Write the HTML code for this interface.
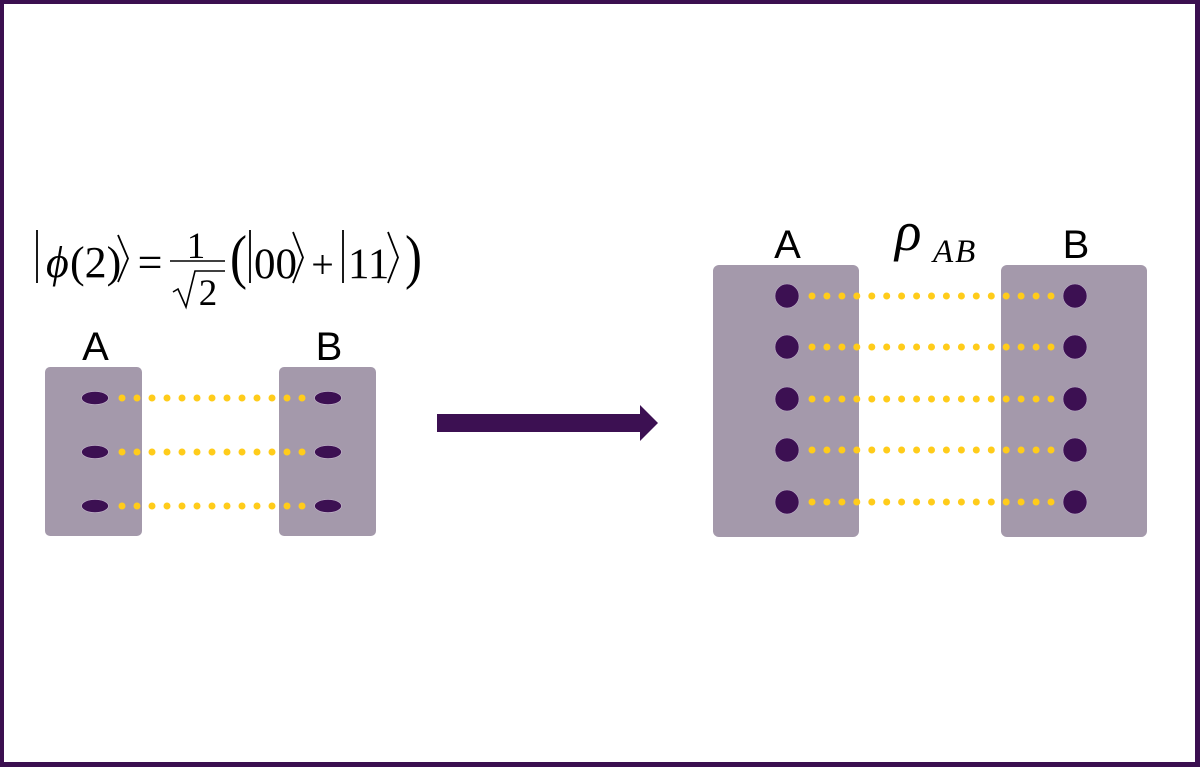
<!DOCTYPE html>
<html><head><meta charset="utf-8"><style>
html,body{margin:0;padding:0;background:#fff;}
body{width:1200px;height:767px;overflow:hidden;position:relative;}
.frame{position:absolute;left:0;top:0;width:1200px;height:767px;box-sizing:border-box;border-style:solid;border-color:#3b0f50;border-width:4px 5px 5px 4px;}
svg{position:absolute;left:0;top:0;}
</style></head><body>
<div class="frame"></div>
<svg width="1200" height="767" viewBox="0 0 1200 767" xmlns="http://www.w3.org/2000/svg">
<!-- Equation -->
<g fill="#000" stroke="#000" font-family="'Liberation Serif', 'DejaVu Serif', serif">
  <line x1="37" y1="230" x2="37" y2="283" stroke-width="1.8"/>
  <text x="46" y="277" font-size="44" stroke="none" font-style="italic">ϕ</text>
  <text x="70" y="277" font-size="44" stroke="none">(2)</text>
  <polyline points="118,235 128,258.5 118,282" fill="none" stroke-width="1.8"/>
  <text x="150" y="277" font-size="44" stroke="none" text-anchor="middle">=</text>
  <text x="196" y="258" font-size="37" stroke="none" text-anchor="middle">1</text>
  <line x1="170" y1="261" x2="225" y2="261" stroke-width="1.6"/>
  <polyline points="173,292 178,289 186,307 195,271 225,271" fill="none" stroke-width="1.6"/>
  <text x="208" y="305" font-size="37" stroke="none" text-anchor="middle">2</text>
  <text x="230" y="277" font-size="60" stroke="none" transform="translate(230 0) scale(0.85 1) translate(-230 0)">(</text>
  <line x1="250" y1="230" x2="250" y2="283" stroke-width="1.8"/>
  <text x="254" y="278" font-size="43" stroke="none">00</text>
  <polyline points="293,232 303,257.5 293,283" fill="none" stroke-width="1.8"/>
  <text x="322.5" y="278" font-size="40" stroke="none" text-anchor="middle">+</text>
  <line x1="343" y1="230" x2="343" y2="283" stroke-width="1.8"/>
  <text x="348" y="278" font-size="43" stroke="none">11</text>
  <polyline points="388,232 398,257.5 388,283" fill="none" stroke-width="1.8"/>
  <text x="405" y="277" font-size="60" stroke="none" transform="translate(405 0) scale(0.85 1) translate(-405 0)">)</text>
</g>

<!-- Left small boxes -->
<rect x="45" y="367" width="97" height="169" rx="5" fill="#a499ab"/>
<rect x="279" y="367" width="97" height="169" rx="5" fill="#a499ab"/>
<g font-family="'Liberation Sans', sans-serif" font-size="40" fill="#000" text-anchor="middle">
  <text x="95.5" y="360">A</text>
  <text x="329" y="360">B</text>
  <text x="787.5" y="258">A</text>
  <text x="1076" y="258">B</text>
</g>
<g fill="#3c1052" stroke="#c8b8d0" stroke-width="0.6">
  <ellipse cx="95" cy="398" rx="13.5" ry="6.5"/>
  <ellipse cx="95" cy="452" rx="13.5" ry="6.5"/>
  <ellipse cx="95" cy="506" rx="13.5" ry="6.5"/>
  <ellipse cx="328" cy="398" rx="13.5" ry="6.5"/>
  <ellipse cx="328" cy="452" rx="13.5" ry="6.5"/>
  <ellipse cx="328" cy="506" rx="13.5" ry="6.5"/>
</g>
<g fill="#ffcc1a">
  <g id="rowL">
    <circle cx="122" cy="398" r="3.5"/><circle cx="137" cy="398" r="3.5"/><circle cx="152" cy="398" r="3.5"/><circle cx="167" cy="398" r="3.5"/><circle cx="182" cy="398" r="3.5"/><circle cx="197" cy="398" r="3.5"/><circle cx="212" cy="398" r="3.5"/><circle cx="227" cy="398" r="3.5"/><circle cx="242" cy="398" r="3.5"/><circle cx="257" cy="398" r="3.5"/><circle cx="272" cy="398" r="3.5"/><circle cx="287" cy="398" r="3.5"/><circle cx="302" cy="398" r="3.5"/>
  </g>
  <use href="#rowL" y="54"/>
  <use href="#rowL" y="108"/>
</g>

<!-- Arrow -->
<polygon points="437,414 640,414 640,405 658,423 640,441 640,432 437,432" fill="#3c1052"/>

<!-- Right boxes -->
<rect x="713" y="265" width="146" height="272" rx="6" fill="#a499ab"/>
<rect x="1001" y="265" width="146" height="272" rx="6" fill="#a499ab"/>
<g font-family="'Liberation Serif', serif" font-style="italic" fill="#000">
  <text x="895" y="250" font-size="55">ρ</text>
  <text x="933" y="262" font-size="33" letter-spacing="2">AB</text>
</g>
<g fill="#3c1052" stroke="#b8a8c4" stroke-width="0.6">
  <circle cx="787" cy="296" r="12"/><circle cx="787" cy="347" r="12"/><circle cx="787" cy="399" r="12"/><circle cx="787" cy="450" r="12"/><circle cx="787" cy="502" r="12"/>
  <circle cx="1075" cy="296" r="12"/><circle cx="1075" cy="347" r="12"/><circle cx="1075" cy="399" r="12"/><circle cx="1075" cy="450" r="12"/><circle cx="1075" cy="502" r="12"/>
</g>
<g fill="#ffcc1a">
  <g id="rowR">
    <circle cx="812" cy="296" r="3.5"/><circle cx="826.9" cy="296" r="3.5"/><circle cx="841.9" cy="296" r="3.5"/><circle cx="856.8" cy="296" r="3.5"/><circle cx="871.8" cy="296" r="3.5"/><circle cx="886.7" cy="296" r="3.5"/><circle cx="901.6" cy="296" r="3.5"/><circle cx="916.6" cy="296" r="3.5"/><circle cx="931.5" cy="296" r="3.5"/><circle cx="946.4" cy="296" r="3.5"/><circle cx="961.4" cy="296" r="3.5"/><circle cx="976.3" cy="296" r="3.5"/><circle cx="991.3" cy="296" r="3.5"/><circle cx="1006.2" cy="296" r="3.5"/><circle cx="1021.1" cy="296" r="3.5"/><circle cx="1036.1" cy="296" r="3.5"/><circle cx="1051" cy="296" r="3.5"/>
  </g>
  <use href="#rowR" y="51"/>
  <use href="#rowR" y="103"/>
  <use href="#rowR" y="154"/>
  <use href="#rowR" y="206"/>
</g>
</svg>
</body></html>
